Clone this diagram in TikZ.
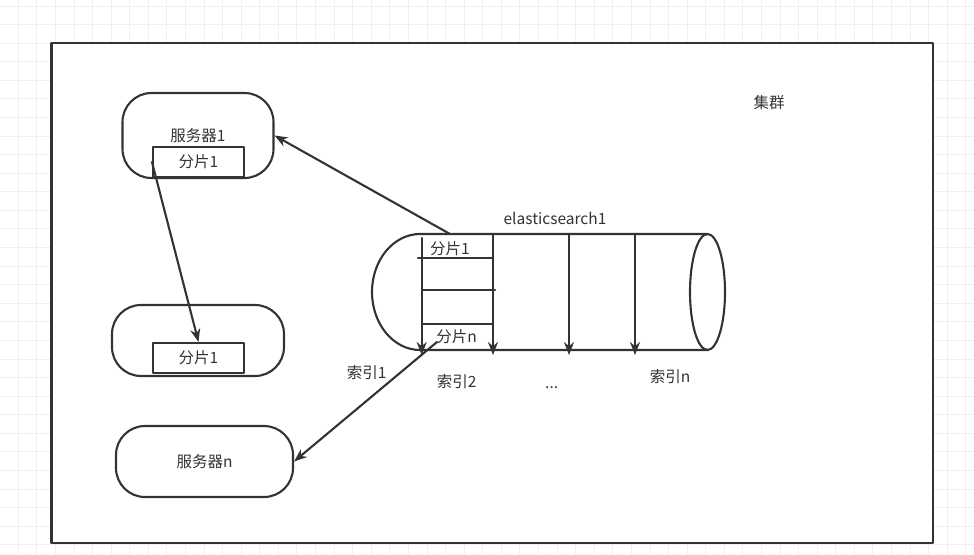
\documentclass[tikz,border=0pt]{standalone}
\usepackage{fontspec}
\setmainfont{Noto Sans CJK SC}
\usetikzlibrary{arrows.meta}
\definecolor{ink}{HTML}{333333}
\definecolor{gridline}{HTML}{EFEFEF}
\tikzset{
  box/.style={draw=ink,line width=2.1pt,text=ink,inner sep=0pt,font=\fontsize{15.5}{18}\selectfont},
  server/.style={box,rounded corners=29pt},
  shard/.style={box,minimum width=91pt,minimum height=30pt},
  lbl/.style={text=ink,inner sep=0pt,font=\fontsize{15.5}{18}\selectfont},
  conn/.style={->,draw=ink,line width=2.1pt}
}
\begin{document}
\begin{tikzpicture}[x=1pt,y=-1pt,line join=round,line cap=round,>={Stealth[length=13pt,width=10pt]}]
	\useasboundingbox (0,0) rectangle (974,554);
	\fill[white] (0,0) rectangle (974,554);
	% grid
	\foreach \i in {1,...,52}
	\draw[gridline,line width=1pt] (\i*18.58-0.3,0)--(\i*18.58-0.3,554);
	\foreach \j in {0,...,29}
	\draw[gridline,line width=1pt] (0,\j*18.58+6)--(974,\j*18.58+6);
	\draw[ink,line width=2.2pt,fill=white] (51.5,42.7) rectangle (932.7,543.3);
	\node[lbl] (cluster) at (769,103) {集群};
	% servers
	\node[server,minimum width=151pt,minimum height=85pt] (srv1) at (198,135.5) {服务器1};
	\node[shard] (shard1) at (198.5,162) {分片1};
	\node[server,minimum width=172pt,minimum height=71pt] (srv2) at (198,340.5) {};
	\node[shard] (shard2) at (198.5,358) {分片1};
	\node[server,minimum width=177pt,minimum height=71pt] (srvn) at (204.5,461.5) {服务器n};
	% elasticsearch
	\draw[ink,line width=2.1pt] (707.5,234)--(420,234) arc[start angle=270,end angle=90,x radius=48,y radius=58]--(707.5,350);
	\draw[ink,line width=2.1pt] (707.5,292) ellipse[x radius=17.5,y radius=58];
	\node[lbl] (es) at (555,218) {elasticsearch1};
	\draw[ink,line width=2.1pt] (418,258)--(492,258);
	\draw[ink,line width=2.1pt] (423,290)--(495,290);
	\draw[ink,line width=2.1pt] (423,324)--(493,324);
	\draw[conn] (421.7,238)--(421.7,355);
	\foreach \x in {493,569,635}
	\draw[conn] (\x,234)--(\x,355);
	\node[lbl] (part1) at (450,249) {分片1};
	\node[lbl] (partn) at (456.7,337) {分片n};
	\node[lbl] (idx1) at (366.7,373) {索引1};
	\node[lbl] (idx2) at (456.7,381.7) {索引2};
	\node[lbl,anchor=base] (dots) at (551.7,388) {...};
	\node[lbl] (idxn) at (670,377) {索引n};
	% connectors
	\coordinate (esA) at (450,234);
	\coordinate (esB) at (437,342);
	\draw[conn] (shard1.west)--(shard2.north);
	\draw[conn] (esA)--(srv1.east);
	\draw[conn] (esB)--(srvn.east);
\end{tikzpicture}
\end{document}
